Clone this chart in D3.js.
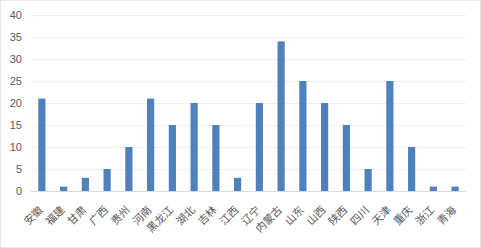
<!DOCTYPE html>
<html>
<head>
<meta charset="utf-8">
<script src="https://cdn.jsdelivr.net/npm/d3@7"></script>
<style>
  body { margin: 0; background: #fff; }
  svg { display: block; font-family: "Noto Sans CJK SC", "DejaVu Sans", sans-serif; }
</style>
</head>
<body>
<svg width="481" height="248"></svg>
<script>
const provinces = ["安徽", "福建", "甘肃", "广西", "贵州", "河南", "黑龙江", "湖北", "吉林", "江西",
  "辽宁", "内蒙古", "山东", "山西", "陕西", "四川", "天津", "重庆", "浙江", "青海"];
const counts = [21, 1, 3, 5, 10, 21, 15, 20, 15, 3, 20, 34, 25, 20, 15, 5, 25, 10, 1, 1];
const yTicks = [0, 5, 10, 15, 20, 25, 30, 35, 40];

const svg = d3.select("svg");
const width = +svg.attr("width");
const height = +svg.attr("height");
const margin = {top: 15, right: 15, bottom: 57, left: 31};

// light frame round the chart area
svg.append("rect")
  .attr("x", 0.5).attr("y", 0.5)
  .attr("width", width - 1).attr("height", height - 1)
  .attr("fill", "#fff").attr("stroke", "#e8e8e8");

const x = d3.scaleBand()
  .domain(provinces)
  .range([margin.left, width - margin.right])
  .paddingInner(0.67).paddingOuter(0.335);

const y = d3.scaleLinear()
  .domain([0, 40])
  .range([height - margin.bottom, margin.top]);

// gridlines
svg.append("g")
  .selectAll("line")
  .data(yTicks)
  .join("line")
  .attr("x1", margin.left).attr("x2", width - margin.right)
  .attr("y1", d => Math.round(y(d)) + 0.5).attr("y2", d => Math.round(y(d)) + 0.5)
  .attr("stroke", d => d === 0 ? "#d9d9d9" : "#f0f0f0");

// y labels
svg.append("g")
  .selectAll("text")
  .data(yTicks)
  .join("text")
  .attr("x", 22)
  .attr("y", d => y(d))
  .attr("dy", "0.35em")
  .attr("text-anchor", "end")
  .attr("fill", "#595959")
  .attr("font-size", 11)
  .attr("font-family", "Liberation Sans, Arial, sans-serif")
  .text(d => d);

// bars
svg.append("g")
  .selectAll("rect")
  .data(provinces)
  .join("rect")
  .attr("x", d => x(d))
  .attr("width", x.bandwidth())
  .attr("y", (d, i) => y(counts[i]))
  .attr("height", (d, i) => y(0) - y(counts[i]))
  .attr("fill", "#4f81bd");

// category labels, rotated -45
svg.append("g")
  .selectAll("text")
  .data(provinces)
  .join("text")
  .attr("transform", d => `translate(${x(d) + x.bandwidth() / 2 - 1},${y(0) + 17}) rotate(-45)`)
  .attr("text-anchor", "end")
  .attr("dy", "0.35em")
  .attr("fill", "#595959")
  .attr("font-size", 10.7)
  .text(d => d);
</script>
</body>
</html>
